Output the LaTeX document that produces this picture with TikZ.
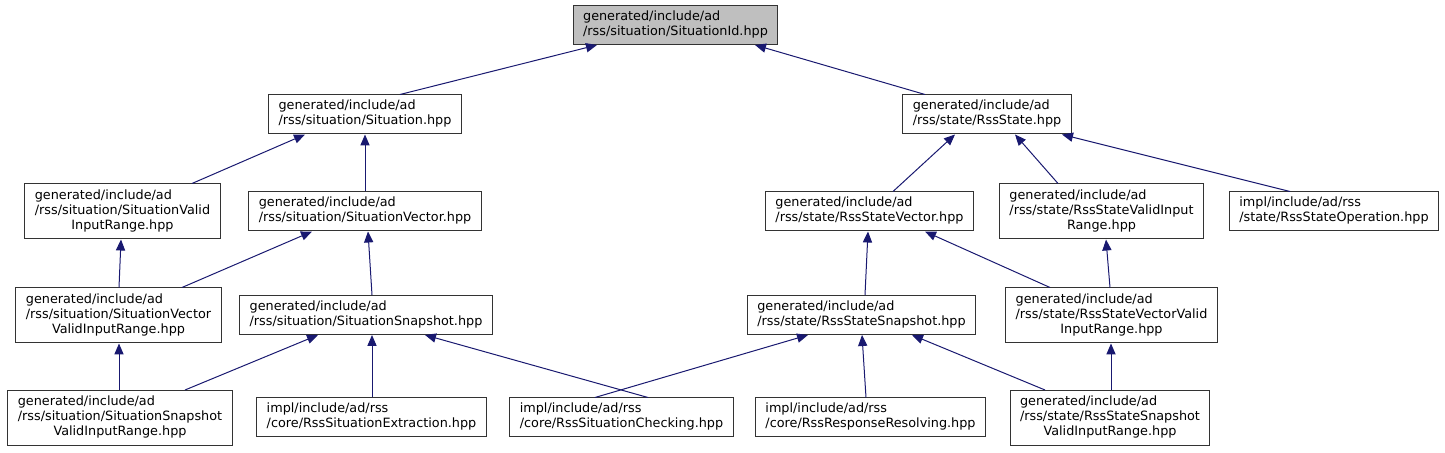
\documentclass[tikz,border=0pt]{standalone}
\usepackage{fontspec}
\setmainfont{DejaVu Sans}
\usepackage{tikz}
\usetikzlibrary{arrows.meta}

\definecolor{edgeblue}{HTML}{191970}
\definecolor{rootgray}{HTML}{BFBFBF}

\newcommand{\twoline}[2]{\begin{tabular}{@{}l@{}}#1\\#2\end{tabular}}
\newcommand{\threeline}[3]{\begin{tabular}{@{}l@{}}#1\\#2\\\multicolumn{1}{@{}c@{}}{#3}\end{tabular}}

\begin{document}
\begin{tikzpicture}[x=0.5pt, y=-0.5pt,
    file/.style={draw=black!80, line width=0.5pt, inner xsep=5pt, inner ysep=1pt,
                 minimum height=19.5pt, font=\fontsize{6.4}{7.5}\selectfont},
    file3/.style={file, minimum height=27.5pt},
    dep/.style={draw=edgeblue, line width=0.5pt,
                -{Triangle[length=5.5pt, width=4.6pt]}}]
  \useasboundingbox (0,0) rectangle (1445,453);

  % root
  \node[file, fill=rootgray] (sid) at (675.5,25)
    {\twoline{generated/include/ad}{/rss/situation/SituationId.hpp}};

  % level 1
  \node[file] (sit) at (365,114.5)
    {\twoline{generated/include/ad}{/rss/situation/Situation.hpp}};
  \node[file] (rss) at (987,114.5)
    {\twoline{generated/include/ad}{/rss/state/RssState.hpp}};

  % level 2
  \node[file3] (sitvalid) at (122.5,211.5)
    {\threeline{generated/include/ad}{/rss/situation/SituationValid}{InputRange.hpp}};
  \node[file] (sitvec) at (365,211.5)
    {\twoline{generated/include/ad}{/rss/situation/SituationVector.hpp}};
  \node[file] (rssvec) at (869.5,211.5)
    {\twoline{generated/include/ad}{/rss/state/RssStateVector.hpp}};
  \node[file3] (rssvalid) at (1101.5,211.5)
    {\threeline{generated/include/ad}{/rss/state/RssStateValidInput}{Range.hpp}};
  \node[file] (rssop) at (1334,211.5)
    {\twoline{impl/include/ad/rss}{/state/RssStateOperation.hpp}};

  % level 3
  \node[file3] (sitvecvalid) at (118.5,315.5)
    {\threeline{generated/include/ad}{/rss/situation/SituationVector}{ValidInputRange.hpp}};
  \node[file] (sitsnap) at (366,315)
    {\twoline{generated/include/ad}{/rss/situation/SituationSnapshot.hpp}};
  \node[file] (rsssnap) at (861.5,315)
    {\twoline{generated/include/ad}{/rss/state/RssStateSnapshot.hpp}};
  \node[file3] (rssvecvalid) at (1111.5,315.5)
    {\threeline{generated/include/ad}{/rss/state/RssStateVectorValid}{InputRange.hpp}};

  % level 4
  \node[file3] (sitsnapvalid) at (120,418)
    {\threeline{generated/include/ad}{/rss/situation/SituationSnapshot}{ValidInputRange.hpp}};
  \node[file] (extract) at (371.5,417.5)
    {\twoline{impl/include/ad/rss}{/core/RssSituationExtraction.hpp}};
  \node[file] (check) at (621.5,417.5)
    {\twoline{impl/include/ad/rss}{/core/RssSituationChecking.hpp}};
  \node[file] (resolve) at (870.5,417.5)
    {\twoline{impl/include/ad/rss}{/core/RssResponseResolving.hpp}};
  \node[file3] (rsssnapvalid) at (1110,418)
    {\threeline{generated/include/ad}{/rss/state/RssStateSnapshot}{ValidInputRange.hpp}};

  % include edges
  \draw[dep] (sit.north -| 400,0) -- (sid.south -| 597,0);
  \draw[dep] (rss.north -| 925,0) -- (sid.south -| 755,0);
  \draw[dep] (sitvalid.north -| 192,0) -- (sit.south -| 305,0);
  \draw[dep] (sitvec.north -| 365,0) -- (sit.south -| 365,0);
  \draw[dep] (rssvec.north -| 893,0) -- (rss.south -| 955,0);
  \draw[dep] (rssvalid.north -| 1058,0) -- (rss.south -| 1015,0);
  \draw[dep] (rssop.north -| 1290,0) -- (rss.south -| 1062,0);
  \draw[dep] (sitvecvalid.north -| 119,0) -- (sitvalid.south -| 121,0);
  \draw[dep] (sitvecvalid.north -| 182,0) -- (sitvec.south -| 312,0);
  \draw[dep] (sitsnap.north -| 372,0) -- (sitvec.south -| 368,0);
  \draw[dep] (rsssnap.north -| 865,0) -- (rssvec.south -| 868,0);
  \draw[dep] (rssvecvalid.north -| 1050,0) -- (rssvec.south -| 925,0);
  \draw[dep] (rssvecvalid.north -| 1110,0) -- (rssvalid.south -| 1106,0);
  \draw[dep] (sitsnapvalid.north -| 119,0) -- (sitvecvalid.south -| 119,0);
  \draw[dep] (sitsnapvalid.north -| 185,0) -- (sitsnap.south -| 318,0);
  \draw[dep] (extract.north -| 372,0) -- (sitsnap.south -| 372,0);
  \draw[dep] (check.north -| 648,0) -- (sitsnap.south -| 425,0);
  \draw[dep] (check.north -| 595,0) -- (rsssnap.south -| 808,0);
  \draw[dep] (resolve.north -| 866,0) -- (rsssnap.south -| 862,0);
  \draw[dep] (rsssnapvalid.north -| 1045,0) -- (rsssnap.south -| 912,0);
  \draw[dep] (rsssnapvalid.north -| 1111,0) -- (rssvecvalid.south -| 1111,0);
\end{tikzpicture}
\end{document}
